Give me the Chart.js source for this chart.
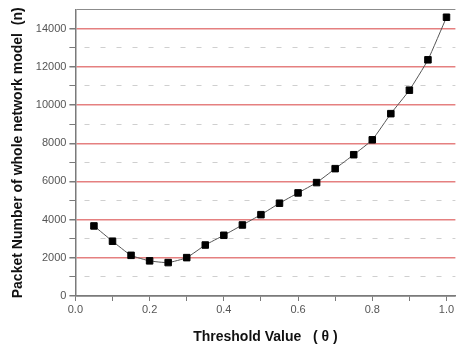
<!DOCTYPE html>
<html>
<head>
<meta charset="utf-8">
<script src="https://cdn.jsdelivr.net/npm/chart.js@4"></script>
<style>
  html, body { margin: 0; padding: 0; background: #ffffff; }
  #wrap { width: 461px; height: 348px; }
</style>
</head>
<body>
<div id="wrap"><canvas id="packetChart" width="461" height="348"></canvas></div>
<script>
/* Packet number vs threshold value */

const thresholds = [0.05, 0.10, 0.15, 0.20, 0.25, 0.30, 0.35, 0.40, 0.45, 0.50,
                    0.55, 0.60, 0.65, 0.70, 0.75, 0.80, 0.85, 0.90, 0.95, 1.00];
const packetCounts = [3670, 2870, 2130, 1840, 1750, 2010, 2670, 3180, 3720, 4260,
                      4860, 5400, 5940, 6670, 7400, 8180, 9550, 10780, 12370, 14600];

const xTickValues = [0.0, 0.1, 0.2, 0.3, 0.4, 0.5, 0.6, 0.7, 0.8, 0.9, 1.0];
const yTickValues = [0, 1000, 2000, 3000, 4000, 5000, 6000, 7000, 8000,
                     9000, 10000, 11000, 12000, 13000, 14000, 15000];
const xMax = 1.024;

const fontFamily = "'Liberation Sans', Arial, sans-serif";
const axisGrey = '#7a7a7a';

const points = thresholds.map((t, i) => ({ x: t, y: packetCounts[i] }));

function yGridColor(ctx) {
    const v = ctx.tick ? ctx.tick.value : 0;
    if (v === 15000) return '#8c8c8c';
    if (v === 0) return axisGrey;
    return v % 2000 === 0 ? '#e58080' : '#cfcfcf';
}

new Chart(document.getElementById('packetChart'), {
    type: 'line',
    data: {
        datasets: [{
            data: points,
            borderColor: '#555555',
            borderWidth: 1,
            tension: 0.15,
            pointStyle: 'rect',
            pointRadius: 4.6,
            pointBackgroundColor: '#000000',
            pointBorderColor: '#000000',
            pointBorderWidth: 1
        }]
    },
    options: {
        responsive: false,
        animation: false,
        layout: { padding: { left: 6, top: 7, right: 0, bottom: 0 } },
        plugins: {
            legend: { display: false },
            tooltip: { enabled: false }
        },
        scales: {
            x: {
                type: 'linear',
                min: 0,
                max: xMax,
                afterBuildTicks: (scale) => {
                    // extra tick at xMax keeps label padding off the right edge
                    scale.ticks = xTickValues.concat([xMax]).map(v => ({ value: v }));
                },
                ticks: {
                    color: '#555555',
                    font: { family: fontFamily, size: 11 },
                    padding: 2,
                    maxRotation: 0,
                    autoSkip: false,
                    callback: (value, index) => (index % 2 === 0 && value <= 1) ? Number(value).toFixed(1) : ''
                },
                grid: {
                    drawOnChartArea: false,
                    drawTicks: true,
                    tickLength: 5,
                    tickColor: (ctx) => (ctx.tick && ctx.tick.value > 1) ? 'rgba(0,0,0,0)' : axisGrey
                },
                border: { color: axisGrey, width: 1.5 },
                title: {
                    display: true,
                    text: 'Threshold Value   ( θ )',
                    color: '#111111',
                    font: { family: fontFamily, size: 14, weight: 'bold' },
                    padding: { top: 11, bottom: 2 }
                }
            },
            y: {
                type: 'linear',
                min: 0,
                max: 15000,
                afterBuildTicks: (scale) => {
                    scale.ticks = yTickValues.map(v => ({ value: v }));
                },
                ticks: {
                    color: '#555555',
                    font: { family: fontFamily, size: 11 },
                    padding: 3,
                    autoSkip: false,
                    callback: (value) => (value % 2000 === 0 && value < 15000) ? String(value) : ''
                },
                grid: {
                    color: yGridColor,
                    lineWidth: (ctx) => (ctx.tick && ctx.tick.value % 2000 === 0) ? 1.5 : 1,
                    drawTicks: true,
                    tickLength: 6,
                    tickColor: (ctx) => (ctx.tick && ctx.tick.value === 15000) ? 'rgba(0,0,0,0)' : axisGrey
                },
                border: {
                    color: axisGrey,
                    width: 1.5,
                    dash: (ctx) => (ctx.tick && ctx.tick.value % 2000 !== 0 && ctx.tick.value !== 15000) ? [5, 11] : [],
                    dashOffset: -8
                },
                title: {
                    display: true,
                    text: 'Packet Number of whole network model  (n)',
                    color: '#111111',
                    font: { family: fontFamily, size: 14, weight: 'bold' },
                    padding: { top: 4, bottom: 6 }
                }
            }
        }
    }
});
</script>
</body>
</html>
